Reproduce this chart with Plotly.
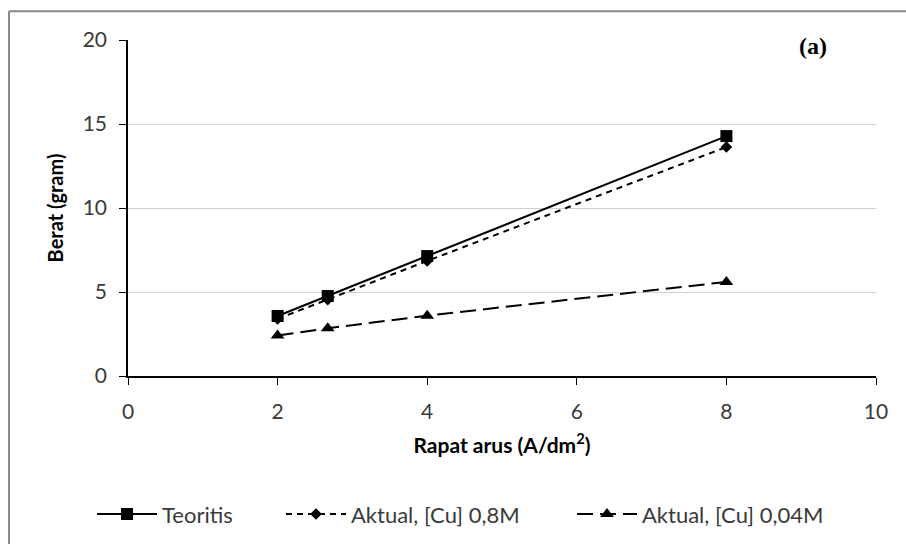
import plotly.graph_objects as go

x_vals = [2, 2.67, 4, 8]
teoritis = [3.57, 4.76, 7.14, 14.28]
aktual_08 = [3.4, 4.55, 6.85, 13.63]
aktual_004 = [2.41, 2.84, 3.59, 5.6]

x_ticks = [0, 2, 4, 6, 8, 10]
y_ticks = [0, 5, 10, 15, 20]

W, H = 906, 547
L, R, T, B = 128, 30, 40, 169
pw, ph = W - L - R, H - T - B

def px(x):
    return (x - L) / pw

def py(y):
    return (H - B - y) / ph

FONT = "Lato, Open Sans, sans-serif"
TXT = "#3a3a3a"

fig = go.Figure()
fig.add_trace(go.Scatter(x=x_vals, y=teoritis, name="Teoritis", mode="lines+markers",
                         line=dict(color="black", width=2, dash="solid"),
                         marker=dict(symbol="square", size=12, color="black"),
                         legend="legend"))
fig.add_trace(go.Scatter(x=x_vals, y=aktual_08, name="Aktual, [Cu] 0,8M", mode="lines+markers",
                         line=dict(color="black", width=2, dash="6px,5px"),
                         marker=dict(symbol="diamond", size=9, color="black"),
                         legend="legend2"))
fig.add_trace(go.Scatter(x=x_vals, y=aktual_004, name="Aktual, [Cu] 0,04M", mode="lines+markers",
                         line=dict(color="black", width=2, dash="16px,7px"),
                         marker=dict(symbol="triangle-up", size=12, color="black"),
                         legend="legend3"))

leg_common = dict(orientation="h", xanchor="left", yanchor="middle",
                  font=dict(size=22, color=TXT, family=FONT), itemwidth=60,
                  bgcolor="rgba(0,0,0,0)")

fig.update_layout(
    width=W, height=H,
    margin=dict(l=L, r=R, t=T, b=B),
    paper_bgcolor="white", plot_bgcolor="white",
    font=dict(family=FONT, color=TXT, size=21),
    xaxis=dict(range=[0, 10], tickvals=x_ticks, showgrid=False, zeroline=False,
               showline=True, linecolor="black", linewidth=1.5,
               ticks="outside", ticklen=7, tickcolor="black", ticklabelstandoff=9,
               tickfont=dict(size=21, color=TXT),
               title=dict(text="<b>Rapat arus (A/dm<sup>2</sup>)</b>", font=dict(size=21, color="black"), standoff=16)),
    yaxis=dict(range=[0, 20], tickvals=y_ticks, showgrid=True, gridcolor="#d0d0d0", gridwidth=1,
               zeroline=False, showline=True, linecolor="black", linewidth=1.5,
               ticks="outside", ticklen=7, tickcolor="black", ticklabelstandoff=8,
               tickfont=dict(size=21, color=TXT),
               title=dict(text="<b>Berat (gram)</b>", font=dict(size=20, color="black"), standoff=14)),
    legend=dict(x=px(92), y=py(517), **leg_common),
    legend2=dict(x=px(281), y=py(517), **leg_common),
    legend3=dict(x=px(572), y=py(517), **leg_common),
    showlegend=True,
)

fig.add_annotation(x=9.16, y=19.64, xref="x", yref="y", text="<b>(a)</b>", showarrow=False,
                   font=dict(family="Liberation Serif", size=24, color="black"))

# outer frame (left and top edges visible)
fig.add_shape(type="line", xref="paper", yref="paper", x0=px(9), y0=py(11), x1=px(906), y1=py(11),
              line=dict(color="#888888", width=2))
fig.add_shape(type="line", xref="paper", yref="paper", x0=px(9), y0=py(11), x1=px(9), y1=py(547),
              line=dict(color="#888888", width=2))

fig.write_html("out.html")
